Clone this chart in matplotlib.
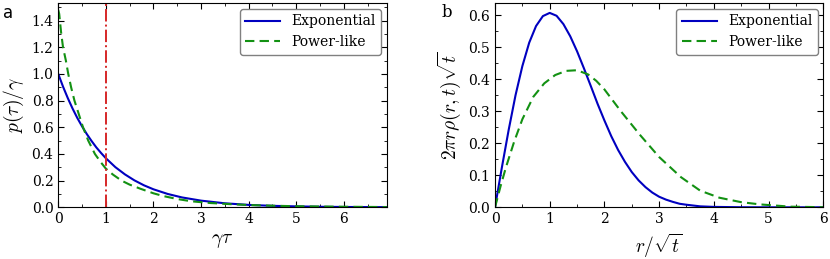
import numpy as np
import matplotlib
matplotlib.use('Agg')
import matplotlib.pyplot as plt
from matplotlib.ticker import MultipleLocator

plt.rcParams.update({
    'font.family': 'serif',
    'font.serif': ['DejaVu Serif'],
    'mathtext.fontset': 'cm',
    'font.size': 10,
    'xtick.direction': 'in',
    'ytick.direction': 'in',
    'xtick.top': True,
    'ytick.right': True,
    'xtick.minor.visible': True,
    'ytick.minor.visible': True,
    'xtick.major.size': 4,
    'ytick.major.size': 4,
    'xtick.minor.size': 2,
    'ytick.minor.size': 2,
    'axes.linewidth': 0.8,
})

# panel a: waiting time distribution
tau_exp = [0, 0.1, 0.2, 0.3, 0.4, 0.5, 0.6, 0.7, 0.8, 0.9, 1.0, 1.2, 1.4, 1.6,
           1.8, 2.0, 2.3, 2.6, 3.0, 3.5, 4.0, 4.5, 5.0, 5.5, 6.0, 6.9]
p_exp = [1.0, 0.905, 0.819, 0.741, 0.670, 0.607, 0.549, 0.497, 0.449, 0.407,
         0.368, 0.301, 0.247, 0.202, 0.165, 0.135, 0.100, 0.074, 0.050, 0.030,
         0.018, 0.011, 0.007, 0.004, 0.0025, 0.001]
tau_pow = [0, 0.02, 0.06, 0.1, 0.16, 0.21, 0.27, 0.34, 0.43, 0.52, 0.63, 0.77,
           0.9, 1.0, 1.15, 1.33, 1.5, 1.72, 2.0, 2.2, 2.5, 2.8, 3.2, 3.6, 4.0,
           4.5, 5.0, 5.5, 6.0, 6.9]
p_pow = [1.48, 1.45, 1.31, 1.20, 1.10, 1.00, 0.90, 0.80, 0.70, 0.60, 0.50,
         0.40, 0.335, 0.29, 0.245, 0.20, 0.17, 0.14, 0.105, 0.085, 0.062,
         0.045, 0.032, 0.024, 0.017, 0.012, 0.008, 0.006, 0.004, 0.002]
tau_mark = 1.0

# panel b: radial distribution
r_exp = [0, 0.125, 0.25, 0.375, 0.5, 0.625, 0.75, 0.875, 1.0, 1.125, 1.25,
         1.375, 1.5, 1.625, 1.75, 1.875, 2.0, 2.125, 2.25, 2.375, 2.5, 2.625,
         2.75, 2.875, 3.0, 3.125, 3.25, 3.375, 3.5, 3.75, 4.0, 4.5, 5.0, 6.0]
rho_exp = [0, 0.124, 0.242, 0.350, 0.441, 0.514, 0.566, 0.597, 0.607, 0.598,
           0.572, 0.534, 0.487, 0.434, 0.379, 0.323, 0.271, 0.222, 0.179,
           0.142, 0.110, 0.084, 0.063, 0.046, 0.033, 0.024, 0.017, 0.011,
           0.008, 0.003, 0.0013, 0.0002, 0.0, 0.0]
r_pow = [0, 0.1, 0.2, 0.35, 0.5, 0.7, 0.9, 1.1, 1.3, 1.5, 1.7, 1.85, 2.0, 2.3,
         2.65, 3.0, 3.4, 3.75, 4.1, 4.5, 4.85, 5.4, 6.0]
rho_pow = [0, 0.065, 0.125, 0.205, 0.275, 0.345, 0.387, 0.413, 0.426, 0.428,
           0.415, 0.395, 0.368, 0.300, 0.226, 0.157, 0.094, 0.052, 0.030,
           0.016, 0.009, 0.002, 0.0003]

blue = '#0000c0'
green = '#139113'
red = '#d62728'

fig = plt.figure(figsize=(8.3, 2.59), dpi=100)
ax1 = fig.add_axes([0.0702, 0.1996, 0.3957, 0.7877])
ax2 = fig.add_axes([0.5964, 0.1996, 0.3955, 0.7877])

ax1.plot(tau_exp, p_exp, color=blue, lw=1.5, label='Exponential')
ax1.plot(tau_pow, p_pow, color=green, lw=1.5, dashes=(4.5, 2.5), label='Power-like')
ax1.axvline(tau_mark, color=red, lw=1.4, ls='-.')
ax1.set_xlim(0, 6.9)
ax1.set_ylim(0, 1.53)
ax1.xaxis.set_major_locator(MultipleLocator(1))
ax1.xaxis.set_minor_locator(MultipleLocator(0.5))
ax1.yaxis.set_major_locator(MultipleLocator(0.2))
ax1.yaxis.set_minor_locator(MultipleLocator(0.1))
ax1.set_xlabel(r'$\gamma\tau$', fontsize=14)
ax1.set_ylabel(r'$p(\tau)/\gamma$', fontsize=14)

ax2.plot(r_exp, rho_exp, color=blue, lw=1.5, label='Exponential')
ax2.plot(r_pow, rho_pow, color=green, lw=1.5, dashes=(4.5, 2.5), label='Power-like')
ax2.set_xlim(0, 6)
ax2.set_ylim(0, 0.637)
ax2.xaxis.set_major_locator(MultipleLocator(1))
ax2.xaxis.set_minor_locator(MultipleLocator(0.5))
ax2.yaxis.set_major_locator(MultipleLocator(0.1))
ax2.yaxis.set_minor_locator(MultipleLocator(0.05))
ax2.set_xlabel(r'$r/\sqrt{t}$', fontsize=14)
ax2.set_ylabel(r'$2\pi r\rho(r,t)\sqrt{t}$', fontsize=14)

for ax in (ax1, ax2):
    ax.legend(loc='upper right', handlelength=2.5, framealpha=1,
              edgecolor='0.5', borderaxespad=0.4)

fig.text(0.004, 0.985, 'a', fontsize=12, family='DejaVu Sans', va='top')
fig.text(0.532, 0.985, 'b', fontsize=12, va='top')

fig.savefig('out.png', dpi=100)
